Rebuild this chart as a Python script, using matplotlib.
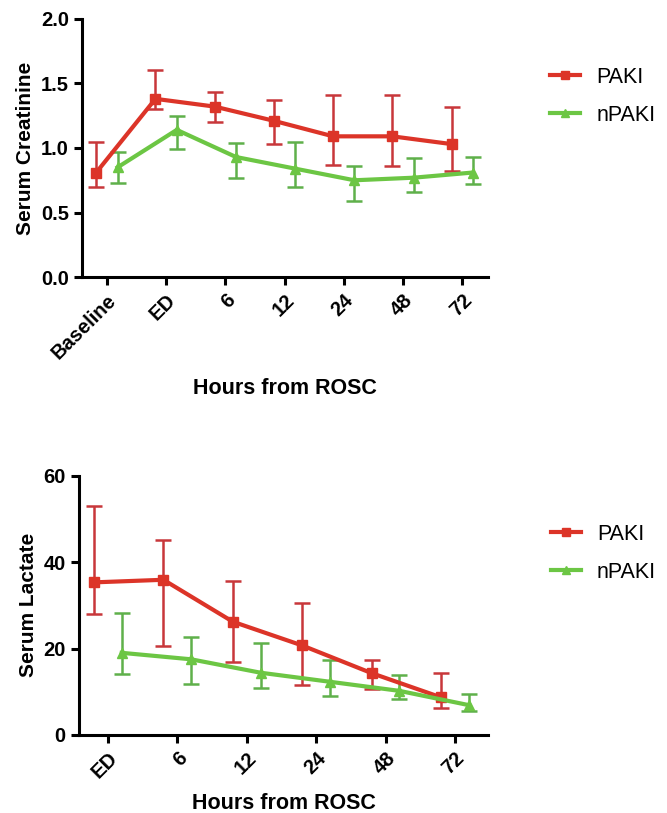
import numpy as np
import matplotlib
matplotlib.use("Agg")
from matplotlib import pyplot

pyplot.rcParams["font.family"] = ["Liberation Sans", "DejaVu Sans"]

# serum creatinine
cr_labels = ["Baseline", "ED", "6", "12", "24", "48", "72"]
cr_paki = [0.81, 1.38, 1.32, 1.21, 1.09, 1.09, 1.03]
cr_paki_lo = [0.70, 1.30, 1.20, 1.03, 0.87, 0.86, 0.82]
cr_paki_hi = [1.05, 1.60, 1.43, 1.37, 1.41, 1.41, 1.32]
cr_npaki = [0.85, 1.14, 0.93, 0.84, 0.75, 0.77, 0.81]
cr_npaki_lo = [0.73, 0.99, 0.77, 0.70, 0.59, 0.66, 0.72]
cr_npaki_hi = [0.97, 1.25, 1.04, 1.05, 0.86, 0.92, 0.93]

# serum lactate
la_labels = ["ED", "6", "12", "24", "48", "72"]
la_paki = [35.3, 35.9, 26.2, 20.7, 14.3, 8.7]
la_paki_lo = [28.0, 20.6, 16.8, 11.6, 10.7, 6.2]
la_paki_hi = [53.0, 45.1, 35.7, 30.6, 17.3, 14.4]
la_npaki = [19.0, 17.5, 14.4, 12.3, 10.2, 6.9]
la_npaki_lo = [14.0, 11.7, 10.8, 8.9, 8.3, 5.6]
la_npaki_hi = [28.1, 22.7, 21.2, 17.4, 13.9, 9.4]

RED = "#dc3428"
RED_EB = "#c8373a"
GREEN = "#6cc644"
GREEN_EB = "#5fb04a"


def draw_panel(ax, labels, paki, paki_lo, paki_hi, npaki, npaki_lo, npaki_hi, shift):
    x = np.arange(len(labels))
    for vals, lo, hi, dx, c, ce, m, lab in [
            (paki, paki_lo, paki_hi, -shift, RED, RED_EB, "s", "PAKI"),
            (npaki, npaki_lo, npaki_hi, shift, GREEN, GREEN_EB, "^", "nPAKI")]:
        vals = np.array(vals)
        yerr = [vals - np.array(lo), np.array(hi) - vals]
        ax.errorbar(x + dx, vals, yerr=yerr, fmt="none", ecolor=ce,
            elinewidth=1.8, capsize=6, capthick=1.8, zorder=2)
        ax.plot(x + dx, vals, color=c, lw=3, marker=m, ms=7, zorder=3, label=lab)
    ax.set_xticks(x)
    ax.set_xticklabels(labels, rotation=45, ha="right", rotation_mode="anchor",
        fontsize=14, fontweight="bold")
    for s in ["top", "right"]:
        ax.spines[s].set_visible(False)
    for s in ["left", "bottom"]:
        ax.spines[s].set_linewidth(2.2)
    ax.tick_params(width=2.2, length=6, labelsize=14.5)
    ax.set_xlabel("Hours from ROSC", fontsize=15.5, fontweight="bold")
    ax.legend(loc="upper left", bbox_to_anchor=(1.105, 0.89), frameon=False,
        fontsize=15.5, handlelength=1.4, handletextpad=0.75, labelspacing=0.8,
        markerscale=0.8)
    return ax


fig = pyplot.figure(figsize=(6.67, 8.13), dpi=100)
ax1 = fig.add_axes([0.123, 0.659, 0.609, 0.318])  # left, bottom, width, height
ax2 = fig.add_axes([0.118, 0.096, 0.614, 0.319])

draw_panel(ax1, cr_labels, cr_paki, cr_paki_lo, cr_paki_hi,
    cr_npaki, cr_npaki_lo, cr_npaki_hi, 0.18)
ax1.set_xlim(-0.42, 6.44)
ax1.set_ylim(0, 2.0)
ax1.set_yticks([0.0, 0.5, 1.0, 1.5, 2.0])
ax1.set_yticklabels(["0.0", "0.5", "1.0", "1.5", "2.0"], fontweight="bold")
ax1.set_ylabel("Serum Creatinine", fontsize=15, fontweight="bold")
ax1.xaxis.labelpad = 11

draw_panel(ax2, la_labels, la_paki, la_paki_lo, la_paki_hi,
    la_npaki, la_npaki_lo, la_npaki_hi, 0.2)
ax2.set_xlim(-0.42, 5.48)
ax2.set_ylim(0, 60)
ax2.set_yticks([0, 20, 40, 60])
ax2.set_yticklabels(["0", "20", "40", "60"], fontweight="bold")
ax2.set_ylabel("Serum Lactate", fontsize=15, fontweight="bold")
ax2.xaxis.labelpad = 8

fig.savefig("out.png", dpi=100)
